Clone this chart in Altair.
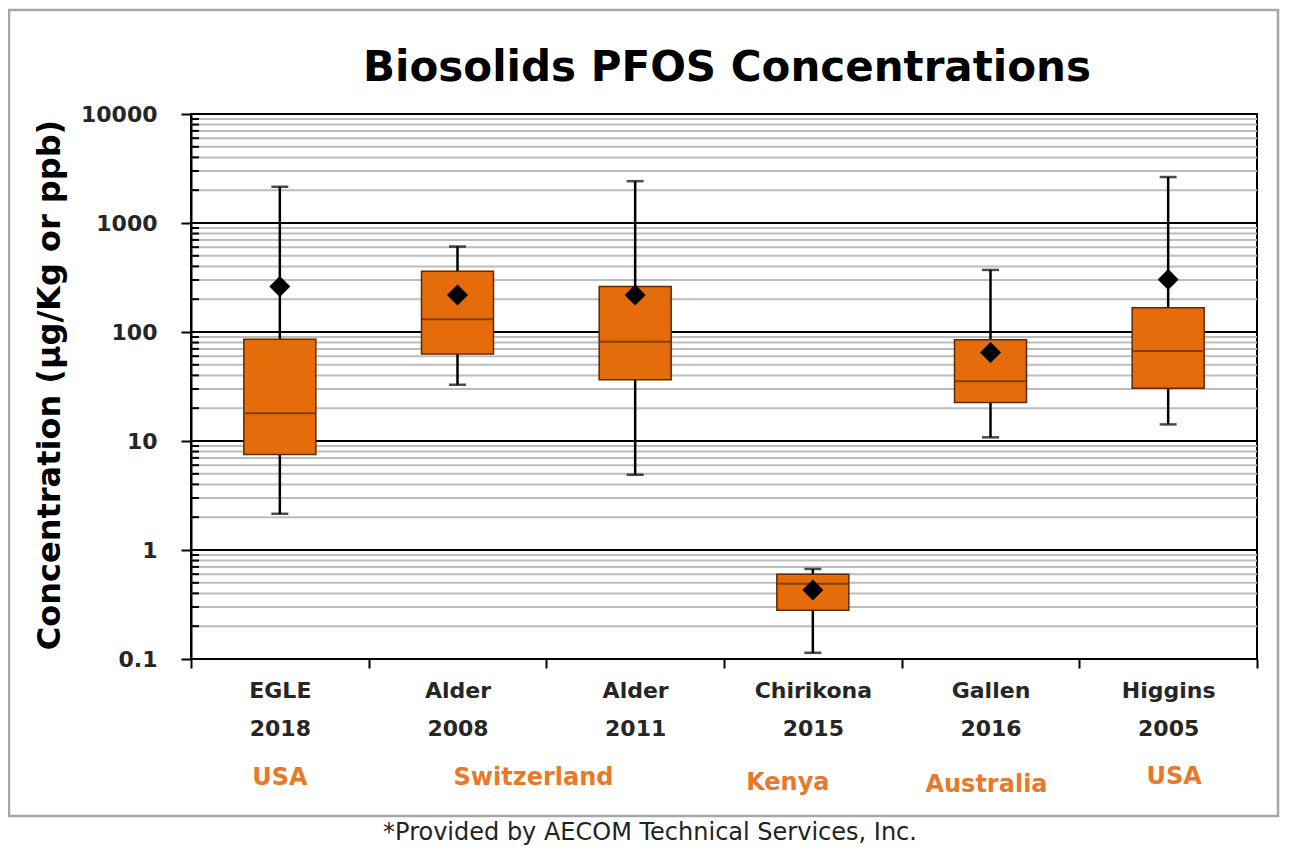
import altair as alt
import pandas as pd

# ---------------- data ----------------
studies = ["EGLE 2018", "Alder 2008", "Alder 2011", "Chirikona 2015", "Gallen 2016", "Higgins 2005"]
whisker_low = [2.15, 32.8, 4.9, 0.114, 10.8, 14.2]
q1 = [7.5, 62.7, 36.5, 0.28, 22.5, 30.5]
median = [18.0, 131.0, 81.5, 0.49, 35.4, 67.0]
q3 = [86.0, 361.0, 261.0, 0.60, 85.0, 167.0]
whisker_high = [2150.0, 608.0, 2420.0, 0.67, 371.0, 2640.0]
mean = [262.0, 218.0, 218.0, 0.43, 65.0, 303.0]

countries = ["USA", "Switzerland", "Kenya", "Australia", "USA"]
country_anchor = ["EGLE 2018", "Alder 2008", "Chirikona 2015", "Gallen 2016", "Higgins 2005"]

major_ticks = [0.1, 1, 10, 100, 1000, 10000]
minor_ticks = [round(m * d, 6) for d in [0.1, 1, 10, 100, 1000] for m in range(2, 10)]

title_text = "Biosolids PFOS Concentrations"
y_title_text = "Concentration (µg/Kg or ppb)"
footnote_text = "*Provided by AECOM Technical Services, Inc."

# ---------------- layout / style ----------------
W, H = 1066, 545
BOX_FILL = "#E46C0A"
BOX_EDGE = "#5E2A00"
ORANGE_TXT = "#E8782A"
FONT_B = "DejaVu Sans"

df = pd.DataFrame({
    "study": studies, "low": whisker_low, "q1": q1, "median": median,
    "q3": q3, "high": whisker_high, "mean": mean,
})
minor_df = pd.DataFrame({"v": minor_ticks})
major_df = pd.DataFrame({"v": major_ticks})
one = pd.DataFrame({"k": [0]})

yscale = alt.Scale(type="log", domain=[0.1, 10000], nice=False)

x_enc = alt.X(
    "study:N", sort=studies,
    scale=alt.Scale(domain=studies, paddingInner=0, paddingOuter=0),
    axis=alt.Axis(
        title=None, labelAngle=0, tickBand="extent", tickSize=9, tickWidth=2,
        tickColor="black", domain=False, grid=False,
        labelExpr="split(datum.label, ' ')", labelLineHeight=38,
        labelFont=FONT_B, labelFontWeight="bold", labelFontSize=22,
        labelColor="#262626", labelPadding=12, labelBaseline="top",
    ),
)

y_axis = alt.Axis(
    title=None, values=major_ticks, format="~g", grid=False,
    tickSize=10, tickWidth=2, tickColor="black",
    domain=True, domainColor="black", domainWidth=2,
    labelFont=FONT_B, labelFontWeight="bold", labelFontSize=22,
    labelColor="#262626", labelPadding=24,
)


def Y(field):
    return alt.Y(field, scale=yscale, axis=y_axis)


# frame around the whole figure
frame = alt.Chart(one).mark_rect(fill=None, stroke="#a6a6a6", strokeWidth=2.5).encode(
    x=alt.value(-182), x2=alt.value(1087), y=alt.value(-104), y2=alt.value(702)
)

minor_grid = alt.Chart(minor_df).mark_rule(color="#bdbdbd", strokeWidth=2).encode(
    y=Y("v:Q"), x=alt.value(0), x2=alt.value(W)
)
minor_tk = alt.Chart(minor_df).mark_rule(color="black", strokeWidth=2).encode(
    y=Y("v:Q"), x=alt.value(0), x2=alt.value(8)
)
major_grid = alt.Chart(major_df).mark_rule(color="black", strokeWidth=2.2).encode(
    y=Y("v:Q"), x=alt.value(0), x2=alt.value(W)
)

base = alt.Chart(df)
whisker = base.mark_rule(color="black", strokeWidth=2.5).encode(
    x=x_enc, y=Y("low:Q"), y2="high:Q"
)
cap_low = base.mark_tick(color="black", size=17, thickness=2.5).encode(
    x=x_enc, y=Y("low:Q")
)
cap_high = base.mark_tick(color="black", size=17, thickness=2.5).encode(
    x=x_enc, y=Y("high:Q")
)
box = base.mark_bar(size=72, fill=BOX_FILL, stroke=BOX_EDGE, strokeWidth=1.5).encode(
    x=x_enc, y=Y("q1:Q"), y2="q3:Q"
)
med = base.mark_tick(color=BOX_EDGE, size=71, thickness=2).encode(
    x=x_enc, y=Y("median:Q")
)
mean_pt = base.mark_point(shape="diamond", filled=True, size=440, color="black", opacity=1).encode(
    x=x_enc, y=Y("mean:Q")
)

# texts
title = alt.Chart(pd.DataFrame({"t": [title_text]})).mark_text(
    font=FONT_B, fontWeight="bold", fontSize=42, color="black", baseline="alphabetic", align="center"
).encode(text="t:N", x=alt.value(536), y=alt.value(-33))

y_title = alt.Chart(pd.DataFrame({"t": [y_title_text]})).mark_text(
    font=FONT_B, fontWeight="bold", fontSize=32, color="black", angle=270,
    baseline="middle", align="center"
).encode(text="t:N", x=alt.value(-141), y=alt.value(271))

footnote = alt.Chart(pd.DataFrame({"t": [footnote_text]})).mark_text(
    font=FONT_B, fontSize=24, color="#222222", baseline="alphabetic", align="center"
).encode(text="t:N", x=alt.value(459), y=alt.value(726))

label_style = [(0, 664), (76, 664), (-25, 669), (-4, 671), (6, 663)]
country_layers = []
for name, anchor, (dx, yy) in zip(countries, country_anchor, label_style):
    country_layers.append(
        alt.Chart(pd.DataFrame({"c": [name], "study": [anchor]})).mark_text(
            font=FONT_B, fontWeight="bold", fontSize=24, color=ORANGE_TXT,
            baseline="middle", align="center", dx=dx
        ).encode(text="c:N", x=x_enc, y=alt.value(yy))
    )

chart = alt.layer(
    frame, minor_grid, minor_tk, major_grid,
    whisker, cap_low, cap_high, box, med, mean_pt,
    title, y_title, footnote, *country_layers
).properties(
    width=W, height=H,
    autosize=alt.AutoSizeParams(type="none"),
    padding={"left": 183, "top": 106, "right": 23, "bottom": 187},
    background="white",
).configure_view(stroke="black", strokeWidth=2)

chart.save("out.html", embed_options={"renderer": "svg", "actions": False})
